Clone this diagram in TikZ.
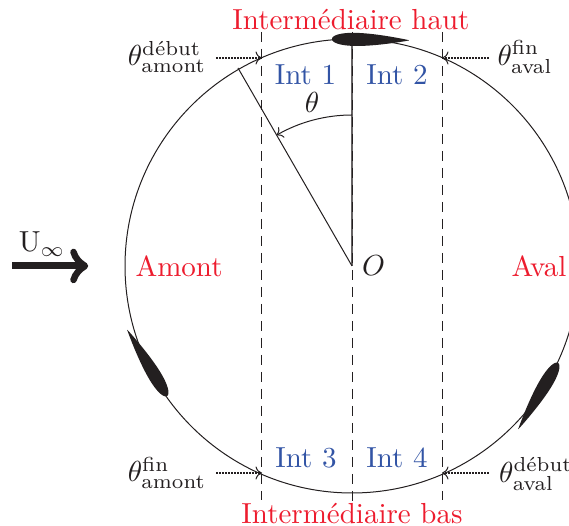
\documentclass[tikz,border=0pt]{standalone}
\usepackage{amsmath}
\usetikzlibrary{arrows.meta}
\definecolor{inkc}{RGB}{35,31,32}
\definecolor{redc}{RGB}{237,28,46}
\definecolor{bluec}{RGB}{50,84,165}
\tikzset{
  x=1pt,y=1pt,
  thinline/.style={draw=inkc,line width=1pt},
  dashline/.style={draw=inkc,line width=1pt,dash pattern=on 10.5pt off 6.5pt},
  dotarrow/.style={draw=inkc,line width=1.5pt,dash pattern=on 1.7pt off 1.3pt,-{Computer Modern Rightarrow[width=13pt,length=6.5pt,line width=1pt]}},
  lab/.style={scale=2.9,inner sep=0pt,text=inkc},
  redlab/.style={lab,text=redc},
  bluelab/.style={lab,text=bluec},
  foil/.style={fill=inkc,draw=none},
}
\newcommand{\foilshape}{%
  plot[domain=0:1,samples=45,smooth] ({77*\x*\x},{65.5*(0.2969*\x-0.126*\x*\x-0.3516*\x*\x*\x*\x+0.2843*\x*\x*\x*\x*\x*\x-0.1015*\x*\x*\x*\x*\x*\x*\x*\x)})
  -- plot[domain=1:0,samples=45,smooth] ({77*\x*\x},{-65.5*(0.2969*\x-0.126*\x*\x-0.3516*\x*\x*\x*\x+0.2843*\x*\x*\x*\x*\x*\x-0.1015*\x*\x*\x*\x*\x*\x*\x*\x)}) -- cycle}
\begin{document}
\begin{tikzpicture}
\useasboundingbox (0,0) rectangle (569,526);
\clip (0,0) rectangle (569,526);
\coordinate (C) at (352,260);
\coordinate (R) at (352,481);
\coordinate (RO) at (238,458);
\coordinate (L1t) at (261,494);\coordinate (L1b) at (261,26);
\coordinate (L2t) at (352,494);\coordinate (L2b) at (352,24);
\coordinate (L3t) at (442,494);\coordinate (L3b) at (442,26);
% circle
\draw[thinline] (C) circle[radius=227];
% radii
\draw[draw=inkc!70,line width=1.5pt] (C) -- (R);
\draw[thinline] (C) -- (RO);
% dashed verticals
\draw[dashline] (L1t) -- (L1b);
\draw[dashline] (L2t) -- (L2b);
\draw[dashline] (L3t) -- (L3b);
\draw[thinline,-{Computer Modern Rightarrow[width=12pt,length=6pt,line width=1pt]}] (352,411) arc[start angle=90,end angle=120,radius=151];
% foils
\fill[foil,shift={(332,487)},rotate=-1] \foilshape;
\fill[foil,shift={(167,130)},rotate=121] \foilshape;
\fill[foil,shift={(558,163)},rotate=239] \foilshape;
% flow arrow
\coordinate (Us) at (12,260);\coordinate (Ue) at (85,260);
\draw[draw=inkc,line width=7pt] (Us) -- (Ue);
\draw[draw=inkc,line width=6.5pt,line cap=round,line join=round] (73.5,274) .. controls (75,268) and (80,263) .. (Ue) .. controls (80,257) and (75,252) .. (73.5,246);
% dotted arrows
\coordinate (a1) at (216,468);\coordinate (a1e) at (262,468);
\coordinate (a2) at (488.5,468);\coordinate (a2e) at (442,468);
\coordinate (a3) at (216,53);\coordinate (a3e) at (262,53);
\coordinate (a4) at (488.5,53);\coordinate (a4e) at (442,53);
\draw[dotarrow] (a1) -- (a1e);
\draw[dotarrow] (a2) -- (a2e);
\draw[dotarrow] (a3) -- (a3e);
\draw[dotarrow] (a4) -- (a4e);
% labels
\node[lab] (t1) at (167,469) {$\theta^{\text{début}}_{\text{amont}}$};
\node[lab] (t2) at (525,469) {$\theta^{\text{fin}}_{\text{aval}}$};
\node[lab] (t3) at (167,53) {$\theta^{\text{fin}}_{\text{amont}}$};
\node[lab] (t4) at (536,52) {$\theta^{\text{début}}_{\text{aval}}$};
\node[redlab] (ih) at (351,506) {Intermédiaire haut};
\node[redlab] (ib) at (352,12) {Intermédiaire bas};
\node[redlab] (am) at (179,260) {Amont};
\node[redlab] (av) at (539,260) {Aval};
\node[bluelab] (i1) at (305.5,451) {Int 1};
\node[bluelab] (i2) at (397,451) {Int 2};
\node[bluelab] (i3) at (306,68) {Int 3};
\node[bluelab] (i4) at (397,68) {Int 4};
\node[lab] (th) at (312,424) {$\theta$};
\node[lab] (O) at (373.5,260) {$O$};
\node[lab] (U) at (42,282) {U$_\infty$};
\end{tikzpicture}
\end{document}
